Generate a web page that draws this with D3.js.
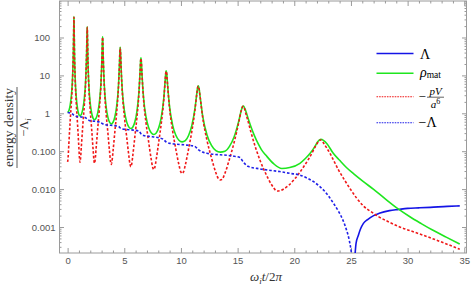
<!DOCTYPE html>
<html>
<head>
<meta charset="utf-8">
<script src="https://cdn.jsdelivr.net/npm/d3@7"></script>
<style>
  body { margin: 0; background: #fff; }
  svg { display: block; }
</style>
</head>
<body>
<div id="chart"></div>
<script>
var width = 471,
  height = 287;

var xTicks = [0, 5, 10, 15, 20, 25, 30, 35];
var yTicks = [0.001, 0.01, 0.1, 1, 10, 100];
var yTickLabels = ["0.001", "0.010", "0.100", "1", "10", "100"];

// rho_mat (green)
var rhoMat = [
  [0,1.057],[0.112,1.168],[0.224,1.61],[0.336,3.04],[0.448,10.8],[0.515,56.7],[0.543,203],[0.56,355],
  [0.576,185],[0.602,47.5],[0.666,8.78],[0.772,2.47],[0.878,1.31],[0.984,0.948],[1.09,0.858],
  [1.218,0.946],[1.346,1.305],[1.474,2.457],[1.602,8.6],[1.679,42.7],[1.711,128.7],[1.73,193],
  [1.749,118.5],[1.781,35.4],[1.858,6.87],[1.986,1.948],[2.114,1.033],[2.242,0.749],[2.37,0.678],
  [2.514,0.746],[2.658,1.029],[2.802,1.932],[2.946,6.67],[3.032,30.7],[3.068,78.2],[3.09,105],
  [3.113,72.9],[3.151,25.5],[3.242,5.27],[3.394,1.512],[3.546,0.804],[3.698,0.583],[3.85,0.527],
  [4.008,0.58],[4.166,0.798],[4.324,1.493],[4.482,5.04],[4.577,20.9],[4.616,44.7],[4.64,55],
  [4.668,42.1],[4.715,17.4],[4.828,3.89],[5.016,1.134],[5.204,0.604],[5.392,0.439],[5.58,0.397],
  [5.758,0.436],[5.936,0.599],[6.114,1.113],[6.292,3.66],[6.399,13.6],[6.443,25.0],[6.47,29],
  [6.504,23.6],[6.56,11.0],[6.696,2.66],[6.922,0.788],[7.148,0.422],[7.374,0.306],[7.6,0.277],
  [7.82,0.3025],[8.04,0.4145],[8.26,0.764],[8.48,2.4],[8.612,7.62],[8.667,12.0],[8.7,13.3],
  [8.742,11.4],[8.812,6.12],[8.98,1.635],[9.26,0.496],[9.54,0.2665],[9.82,0.194],[10.1,0.1757],
  [10.386,0.19],[10.672,0.259],[10.958,0.47],[11.244,1.382],[11.416,3.63],[11.487,5.02],[11.53,5.35],
  [11.588,4.76],[11.685,2.85],[11.918,0.846],[12.306,0.264],[12.694,0.1428],[13.082,0.104],[13.47,0.0943],
  [13.876,0.0994],[14.282,0.134],[14.688,0.236],[15.094,0.611],[15.338,1.243],[15.439,1.507],[15.5,1.56],
  [15.56,1.5],[15.7,1.2],[15.9,0.78],[16.2,0.42],[16.5,0.25],[16.8,0.16],[17.1,0.11],[17.5,0.078],
  [18.2,0.046],[18.9,0.035],[19.6,0.037],[20.5,0.048],[21.0,0.065],[21.4,0.088],[21.8,0.13],[22.05,0.175],
  [22.33,0.206],[22.6,0.19],[22.9,0.155],[23.44,0.088],[24.0,0.0575],[24.6,0.0372],[25.3,0.0245],
  [26.1,0.0158],[27.0,0.0098],[28.0,0.0056],[29.2,0.00295],[30.2,0.00186],[31.2,0.00123],[32.2,0.00083],
  [33.4,0.00054],[34.6,0.000355]
];

// -pV/a^6 (red, dashed)
var pV = [
  [0,0.052],[0.045,0.0686],[0.112,0.163],[0.224,0.608],[0.336,2.04],[0.448,9.8],[0.515,55.8],[0.543,200],[0.56,340],
  [0.576,182],[0.602,46.8],[0.666,7.99],[0.772,1.67],[0.878,0.503],[0.984,0.141],[1.048,0.0646],[1.09,0.051],
  [1.141,0.0645],[1.218,0.141],[1.346,0.502],[1.474,1.66],[1.602,7.83],[1.679,42.1],[1.711,128],[1.73,185],
  [1.749,116],[1.781,34.9],[1.858,6.26],[1.986,1.32],[2.114,0.405],[2.242,0.119],[2.319,0.0586],[2.37,0.048],
  [2.428,0.0584],[2.514,0.119],[2.658,0.403],[2.802,1.31],[2.946,6.08],[3.032,30.2],[3.068,78.0],[3.09,101],
  [3.113,72.8],[3.151,25.1],[3.242,4.81],[3.394,1.034],[3.546,0.322],[3.698,0.1005],[3.789,0.0533],[3.85,0.045],
  [3.913,0.053],[4.008,0.1],[4.166,0.32],[4.324,1.021],[4.482,4.6],[4.577,20.6],[4.616,44.6],[4.64,53],
  [4.668,42.0],[4.715,17.2],[4.828,3.55],[5.016,0.78],[5.204,0.247],[5.392,0.0806],[5.505,0.045],[5.58,0.039],
  [5.651,0.0448],[5.758,0.0801],[5.936,0.245],[6.114,0.766],[6.292,3.34],[6.399,13.4],[6.443,25.0],[6.47,28],
  [6.504,23.6],[6.56,10.85],[6.696,2.44],[6.922,0.548],[7.148,0.178],[7.374,0.0619],[7.51,0.0372],[7.6,0.033],
  [7.688,0.0367],[7.82,0.0612],[8.04,0.175],[8.26,0.531],[8.48,2.2],[8.612,7.51],[8.667,12.0],[8.7,12.8],
  [8.742,11.4],[8.812,6.04],[8.98,1.5],[9.26,0.35],[9.54,0.1176],[9.82,0.0442],[9.988,0.0284],[10.1,0.026],
  [10.214,0.0279],[10.386,0.0432],[10.672,0.1142],[10.958,0.331],[11.244,1.269],[11.416,3.58],[11.487,4.95],[11.53,5.14],
  [11.588,4.7],[11.685,2.81],[11.918,0.78],[12.306,0.189],[12.694,0.0663],[13.082,0.027],[13.315,0.0186],[13.47,0.0174],
  [13.632,0.0181],[13.876,0.0258],[14.282,0.0622],[14.688,0.169],[15.094,0.563],[15.338,1.227],[15.439,1.48],[15.5,1.52],
  [15.56,1.45],[15.7,1.05],[15.9,0.65],[16.2,0.3],[16.6,0.12],[17.0,0.055],[17.5,0.025],[18.0,0.013],
  [18.5,0.0089],[19.0,0.0098],[19.5,0.0125],[20.0,0.018],[20.5,0.028],[20.9,0.042],[21.3,0.065],[21.55,0.088],
  [21.9,0.14],[22.15,0.182],[22.33,0.197],[22.55,0.17],[22.8,0.13],[23.15,0.088],[23.5,0.055],[23.9,0.032],
  [24.4,0.018],[24.9,0.0105],[25.5,0.0058],[26.1,0.0036],[26.8,0.0025],[27.4,0.0019],[28.3,0.00138],
  [29.3,0.001],[30.5,0.00075],[31.7,0.00056],[33.0,0.0004],[34.6,0.00026]
];

// -Lambda (blue, dashed)
var negLambda = [
  [0,1.05],[0.3,1.0],[0.45,0.95],[0.56,0.88],[0.7,0.84],[1.2,0.8],[1.55,0.77],[1.73,0.7],[1.9,0.65],
  [2.5,0.61],[2.9,0.58],[3.09,0.53],[3.3,0.5],[4.2,0.47],[4.5,0.45],[4.64,0.41],[4.85,0.385],[5.8,0.36],
  [6.3,0.34],[6.47,0.29],[6.7,0.26],[7.5,0.24],[8.4,0.21],[8.7,0.175],[9.1,0.16],[10.5,0.145],[11.2,0.135],
  [11.53,0.11],[11.9,0.095],[12.4,0.087],[14.5,0.075],[15.2,0.068],[15.5,0.052],[15.9,0.04],[17.0,0.034],
  [18.7,0.029],[19.6,0.026],[20.5,0.0235],[21.2,0.019],[21.7,0.0157],[22.2,0.012],[22.6,0.0093],[23.0,0.0067],
  [23.44,0.0043],[23.9,0.0026],[24.3,0.0015],[24.6,0.00085],[24.85,0.00045],[25.05,0.0002],[25.2,0.00008]
];

// Lambda (blue, solid)
var lambda = [
  [25.3,0.0001],[25.45,0.00037],[25.65,0.0006],[25.85,0.0009],[26.1,0.00125],[26.5,0.0016],[27.0,0.002],
  [27.5,0.0023],[28.4,0.0027],[29.2,0.0029],[30.0,0.0031],[31.0,0.0032],[32.0,0.0033],[33.5,0.0035],[34.6,0.0036]
];

var svg = d3.select("#chart").append("svg")
  .attr("width", width)
  .attr("height", height);

var x = d3.scaleLinear()
  .domain([-0.76, 35.24])
  .range([59, 467]);

var y = d3.scaleLog()
  .domain([Math.pow(10, -3.686), Math.pow(10, 2.963)])
  .range([253, 1]);

var frameColor = "#9a9a9a";

// minor ticks
var xMinor = d3.range(0, 36).filter(function(d) { return d % 5 !== 0; });
var yMinor = [];
[-4, -3, -2, -1, 0, 1, 2].forEach(function(e) {
  for (var k = 2; k <= 9; k++) {
    var v = k * Math.pow(10, e);
    if (v > y.domain()[0] && v < y.domain()[1]) yMinor.push(v);
  }
});

function styleAxis(g) {
  g.select(".domain").remove();
  g.selectAll("line").attr("stroke", frameColor);
  g.selectAll("text")
    .attr("fill", "#555")
    .style("font-family", "'Liberation Sans', Arial, sans-serif")
    .style("font-size", "9.5px");
}

svg.append("g")
  .attr("transform", "translate(0,253)")
  .call(d3.axisBottom(x).tickValues(xTicks).tickSize(-5).tickPadding(4.5))
  .call(styleAxis);
svg.append("g")
  .attr("transform", "translate(0,253)")
  .call(d3.axisBottom(x).tickValues(xMinor).tickSize(-2.5).tickFormat(""))
  .call(styleAxis);
svg.append("g")
  .attr("transform", "translate(0,1)")
  .call(d3.axisTop(x).tickValues(xTicks).tickSize(-5).tickFormat(""))
  .call(styleAxis);
svg.append("g")
  .attr("transform", "translate(0,1)")
  .call(d3.axisTop(x).tickValues(xMinor).tickSize(-2.5).tickFormat(""))
  .call(styleAxis);

svg.append("g")
  .attr("transform", "translate(59,0)")
  .call(d3.axisLeft(y).tickValues(yTicks).tickSize(-5).tickPadding(3.5)
    .tickFormat(function(d, i) { return yTickLabels[i]; }))
  .call(styleAxis)
  .selectAll("text")
  .attr("x", function(d) { return d >= 1 ? -9 : -3.5; });
svg.append("g")
  .attr("transform", "translate(59,0)")
  .call(d3.axisLeft(y).tickValues(yMinor).tickSize(-2.5).tickFormat(""))
  .call(styleAxis);
svg.append("g")
  .attr("transform", "translate(467,0)")
  .call(d3.axisRight(y).tickValues(yTicks).tickSize(-5).tickFormat(""))
  .call(styleAxis);
svg.append("g")
  .attr("transform", "translate(467,0)")
  .call(d3.axisRight(y).tickValues(yMinor).tickSize(-2.5).tickFormat(""))
  .call(styleAxis);

svg.append("rect")
  .attr("x", 59.5)
  .attr("y", 1)
  .attr("width", 407)
  .attr("height", 252)
  .attr("fill", "none")
  .attr("stroke", frameColor)
  .attr("stroke-width", 1);

svg.append("clipPath")
  .attr("id", "clip")
  .append("rect")
  .attr("x", 59)
  .attr("y", 1)
  .attr("width", 408)
  .attr("height", 252);

var line = d3.line()
  .x(function(d) { return x(d[0]); })
  .y(function(d) { return y(d[1]); })
  .curve(d3.curveMonotoneX);

var plot = svg.append("g").attr("clip-path", "url(#clip)");

var series = [
  { data: lambda, color: "#1414e6", dash: null },
  { data: rhoMat, color: "#1ee61e", dash: null },
  { data: pV, color: "#f01818", dash: "2.6,1.9" },
  { data: negLambda, color: "#2020e8", dash: "2.6,1.9" }
];

series.forEach(function(s) {
  plot.append("path")
    .datum(s.data)
    .attr("d", line)
    .attr("fill", "none")
    .attr("stroke", s.color)
    .attr("stroke-width", 1.6)
    .attr("stroke-dasharray", s.dash);
});

// legend
var legend = svg.append("g");
var legendRows = [
  { y: 53.5, color: "#1414e6", dash: null },
  { y: 73.3, color: "#1ee61e", dash: null },
  { y: 96.7, color: "#f01818", dash: "1.6,1" },
  { y: 122.7, color: "#2020e8", dash: "1.6,1" }
];
legendRows.forEach(function(r) {
  legend.append("line")
    .attr("x1", 376.5).attr("x2", 413.5)
    .attr("y1", r.y).attr("y2", r.y)
    .attr("stroke", r.color)
    .attr("stroke-width", r.dash ? 1.1 : 1.4)
    .attr("stroke-dasharray", r.dash);
});

var serif = "'Liberation Serif', 'Times New Roman', serif";

legend.append("text")
  .attr("x", 420).attr("y", 58.5)
  .style("font-family", serif).style("font-size", "14px")
  .text("Λ");

var rho = legend.append("text")
  .attr("x", 420).attr("y", 76.5)
  .style("font-family", serif).style("font-size", "14px");
rho.append("tspan").style("font-style", "italic").text("ρ");
rho.append("tspan").attr("dy", 1.8).style("font-size", "9.5px").text("mat");

legend.append("text")
  .attr("x", 418.5).attr("y", 100.8)
  .style("font-family", serif).style("font-size", "13px")
  .text("−");
legend.append("text")
  .attr("x", 435.5).attr("y", 94.5)
  .attr("text-anchor", "middle")
  .style("font-family", serif).style("font-size", "11px").style("font-style", "italic")
  .text("pV");
legend.append("line")
  .attr("x1", 427).attr("x2", 444)
  .attr("y1", 97.2).attr("y2", 97.2)
  .attr("stroke", "#222").attr("stroke-width", 0.7);
var den = legend.append("text")
  .attr("x", 435.5).attr("y", 107.5)
  .attr("text-anchor", "middle")
  .style("font-family", serif).style("font-size", "11px");
den.append("tspan").style("font-style", "italic").text("a");
den.append("tspan").attr("dy", -3.5).style("font-size", "8px").text("6");

legend.append("text")
  .attr("x", 418.5).attr("y", 127.3)
  .style("font-family", serif).style("font-size", "14px")
  .text("−Λ");

// x label
var xl = svg.append("text")
  .attr("x", 266).attr("y", 281)
  .attr("text-anchor", "middle")
  .style("font-family", serif).style("font-size", "13px").attr("fill", "#333");
xl.append("tspan").style("font-style", "italic").text("ω");
xl.append("tspan").attr("dy", 2.5).style("font-size", "9px").style("font-style", "italic").text("i");
xl.append("tspan").attr("dy", -2.5).style("font-style", "italic").text("t");
xl.append("tspan").text("/2");
xl.append("tspan").style("font-style", "italic").text("π");

// y label
var yl = svg.append("g")
  .attr("transform", "translate(17,127.5) rotate(-90)");
yl.append("text")
  .attr("x", 0).attr("y", -3.8)
  .attr("text-anchor", "middle")
  .style("font-family", serif).style("font-size", "13.5px").attr("fill", "#333")
  .text("energy density");
yl.append("line")
  .attr("x1", -40.5).attr("x2", 40.5)
  .attr("y1", 0).attr("y2", 0)
  .attr("stroke", "#333").attr("stroke-width", 0.8);
var yd = yl.append("text")
  .attr("x", 0).attr("y", 11)
  .attr("text-anchor", "middle")
  .style("font-family", serif).style("font-size", "12.5px").attr("fill", "#333");
yd.append("tspan").text("−Λ");
yd.append("tspan").attr("dy", 2.5).style("font-size", "8.5px").style("font-style", "italic").text("i");
</script>
</body>
</html>
